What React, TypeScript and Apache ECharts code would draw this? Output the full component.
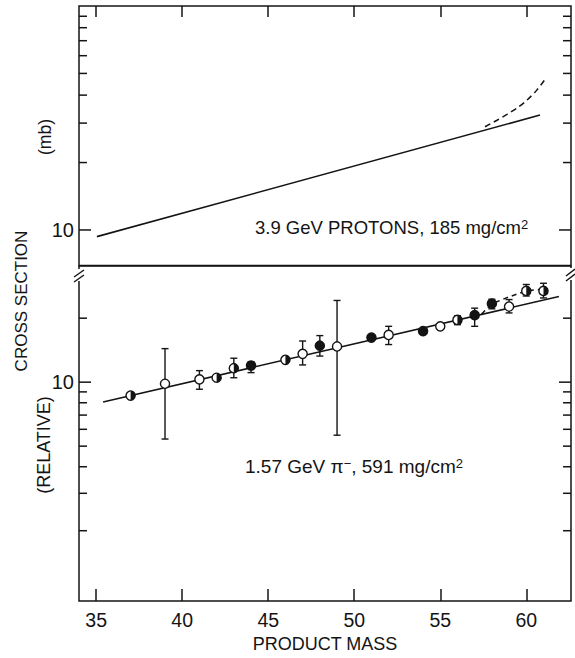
import React, { useEffect, useRef } from 'react';
import * as echarts from 'echarts';

// ---- data ----
const xTickValues = [35, 40, 45, 50, 55, 60];

// top panel: 3.9 GeV protons (mb)
const protonFitLine = [[35.04, 9.34], [60.8, 32.6]];
const protonDashed = [[57.6, 28.9], [58.3, 30.9], [58.9, 32.9], [59.5, 35.2], [60.04, 38.0], [60.6, 42.0], [61.1, 47.1]];

// bottom panel: 1.57 GeV pi- (relative)
const pionMass = [37, 39, 41, 42, 43, 44, 46, 47, 48, 49, 51, 52, 54, 55, 56, 57, 58, 59, 60, 61];
const pionValue = [8.65, 9.83, 10.31, 10.49, 11.63, 11.97, 12.74, 13.59, 14.84, 14.72, 16.21, 16.68, 17.39, 18.31, 19.63, 20.67, 23.41, 22.69, 26.88, 26.88];
const pionErrLow = [0, 5.4, 9.26, 0, 10.49, 11.09, 0, 12.05, 13.27, 5.63, 0, 15.03, 0, 0, 18.64, 18.31, 22.13, 21.17, 25.43, 24.9];
const pionErrHigh = [0, 14.38, 11.33, 0, 12.96, 12.47, 0, 15.62, 16.56, 24.23, 0, 18.31, 0, 0, 20.52, 22.29, 24.55, 24.47, 28.81, 29.2];
// 0 = open, 1 = filled, 2 = half filled
const pionMarker = [2, 0, 0, 2, 2, 1, 2, 0, 1, 0, 1, 0, 1, 0, 2, 1, 1, 0, 2, 2];
const pionFitLine = [[35.4, 8.07], [61.9, 25.3]];
const pionDashed = [[57.4, 20.9], [58, 23.4], [59, 25.2], [60, 26.9], [61, 27.4]];

const topTicks = [10, 20, 30, 40, 50, 60, 70, 80, 90];
const bottomTicks = [2, 3, 4, 5, 6, 7, 8, 9, 10, 20];

const INK = '#141414';
const FONT = 'Liberation Sans';

function tickSeries(gridIdx: number, ticks: number[]) {
  return {
    type: 'custom',
    xAxisIndex: gridIdx,
    yAxisIndex: gridIdx,
    silent: true,
    data: ticks.map((v) => [40, v, v === 10 ? 1 : 0]),
    renderItem: (params: any, api: any) => {
      const cs = params.coordSys;
      const v = api.value(1);
      const major = api.value(2);
      const y = api.coord([40, v])[1];
      const len = major ? 12 : 8;
      const st = { stroke: INK, lineWidth: 1.5 };
      return {
        type: 'group',
        children: [
          { type: 'line', shape: { x1: cs.x, y1: y, x2: cs.x + len, y2: y }, style: st },
          { type: 'line', shape: { x1: cs.x + cs.width - len, y1: y, x2: cs.x + cs.width, y2: y }, style: st },
        ],
      };
    },
  };
}

export default function App() {
  const ref = useRef<HTMLDivElement>(null);
  useEffect(() => {
    if (!ref.current) return;
    const chart = echarts.init(ref.current, undefined, { renderer: 'svg' });
    const tickStyle = { color: INK, width: 1.5 };
    const labelFmt = (v: number) => (Math.abs(v - 10) < 1e-6 ? '10' : '');
    const vText = (text: string, x: number, y: number, size: number) => ({
      type: 'text', x, y, rotation: Math.PI / 2,
      style: { text, fontSize: size, fontFamily: FONT, fill: INK, align: 'center', verticalAlign: 'middle', textAlign: 'center', textVerticalAlign: 'middle' },
    });
    const option: any = {
      animation: false,
      backgroundColor: '#ffffff',
      grid: [
        { left: 79, top: 6, width: 492, height: 259.5, show: true, borderColor: INK, borderWidth: 1.5, backgroundColor: 'transparent' },
        { left: 79, top: 266, width: 492, height: 350, show: true, borderColor: INK, borderWidth: 1.5, backgroundColor: 'transparent' },
      ],
      xAxis: [
        {
          type: 'value', gridIndex: 0, min: 34, max: 62.6, position: 'top',
          axisLine: { show: false }, splitLine: { show: false },
          axisTick: { show: true, inside: true, length: 11, customValues: xTickValues, lineStyle: tickStyle },
          axisLabel: { show: false },
        },
        {
          type: 'value', gridIndex: 1, min: 34, max: 62.6, position: 'bottom',
          axisLine: { show: false }, splitLine: { show: false },
          axisTick: { show: true, inside: true, length: 12, customValues: xTickValues, lineStyle: tickStyle },
          axisLabel: { customValues: xTickValues, fontSize: 19.5, color: INK, margin: 9, fontFamily: FONT },
          name: 'PRODUCT MASS', nameLocation: 'middle', nameGap: 31,
          nameTextStyle: { fontSize: 18, color: INK, fontFamily: FONT },
        },
      ],
      yAxis: [
        {
          type: 'log', gridIndex: 0, min: 6.94, max: 100, logBase: 10,
          axisLine: { show: false }, axisTick: { show: false }, splitLine: { show: false },
          axisLabel: { formatter: labelFmt, fontSize: 20, color: INK, margin: 5, fontFamily: FONT },
        },
        {
          type: 'log', gridIndex: 1, min: 0.933, max: 35.2, logBase: 10,
          axisLine: { show: false }, axisTick: { show: false }, splitLine: { show: false },
          axisLabel: { formatter: labelFmt, fontSize: 20, color: INK, margin: 5, fontFamily: FONT },
        },
      ],
      series: [
        {
          type: 'line', xAxisIndex: 0, yAxisIndex: 0, data: protonFitLine, symbol: 'none',
          lineStyle: { color: INK, width: 1.6 },
        },
        {
          type: 'line', xAxisIndex: 0, yAxisIndex: 0, data: protonDashed, symbol: 'none', smooth: 0.3,
          lineStyle: { color: INK, width: 1.5, type: [6, 4] },
        },
        {
          type: 'line', xAxisIndex: 1, yAxisIndex: 1, data: pionFitLine, symbol: 'none',
          lineStyle: { color: INK, width: 1.6 },
        },
        {
          type: 'line', xAxisIndex: 1, yAxisIndex: 1, data: pionDashed, symbol: 'none',
          lineStyle: { color: INK, width: 1.5, type: [5, 4] },
        },
        {
          type: 'custom', xAxisIndex: 1, yAxisIndex: 1, silent: true, z: 5,
          data: pionMass.map((m, i) => [m, pionValue[i], pionErrLow[i], pionErrHigh[i], pionMarker[i]]),
          renderItem: (params: any, api: any) => {
            const x = api.value(0);
            const y = api.value(1);
            const lo = api.value(2);
            const hi = api.value(3);
            const kind = api.value(4);
            const p = api.coord([x, y]);
            const r = 4.6;
            const st = { stroke: INK, lineWidth: 1.4 };
            const children: any[] = [];
            if (lo > 0 && hi > 0) {
              const pl = api.coord([x, lo]);
              const ph = api.coord([x, hi]);
              children.push({ type: 'line', shape: { x1: p[0], y1: pl[1], x2: p[0], y2: ph[1] }, style: st });
              children.push({ type: 'line', shape: { x1: p[0] - 3.5, y1: pl[1], x2: p[0] + 3.5, y2: pl[1] }, style: st });
              children.push({ type: 'line', shape: { x1: p[0] - 3.5, y1: ph[1], x2: p[0] + 3.5, y2: ph[1] }, style: st });
            }
            children.push({
              type: 'circle', shape: { cx: p[0], cy: p[1], r },
              style: { fill: kind === 1 ? INK : '#ffffff', stroke: INK, lineWidth: 1.4 },
            });
            if (kind === 2) {
              children.push({
                type: 'sector',
                shape: { cx: p[0], cy: p[1], r0: 0, r, startAngle: -Math.PI / 2, endAngle: Math.PI / 2 },
                style: { fill: INK },
              });
            }
            return { type: 'group', children };
          },
        },
        tickSeries(0, topTicks),
        tickSeries(1, bottomTicks),
      ],
      graphic: [
        vText('CROSS SECTION', 21, 301, 17),
        vText('(mb)', 45, 137, 17.5),
        vText('(RELATIVE)', 44, 445, 18),
        {
          type: 'text', x: 255, y: 227,
          style: {
            text: '3.9 GeV PROTONS, 185 mg/cm{sup|2}', fontSize: 18.5, fontFamily: FONT, fill: INK,
            align: 'left', verticalAlign: 'middle', textAlign: 'left', textVerticalAlign: 'middle',
            rich: { sup: { fontSize: 13, fontFamily: FONT, fill: INK, verticalAlign: 'top' } },
          },
        },
        {
          type: 'text', x: 245, y: 466,
          style: {
            text: '1.57 GeV π{sup|−}, 591 mg/cm{sup|2}', fontSize: 19, fontFamily: FONT, fill: INK,
            align: 'left', verticalAlign: 'middle', textAlign: 'left', textVerticalAlign: 'middle',
            rich: { sup: { fontSize: 13, fontFamily: FONT, fill: INK, verticalAlign: 'top' } },
          },
        },
        // axis break marks
        { type: 'rect', shape: { x: 76, y: 269, width: 6, height: 12 }, style: { fill: '#ffffff' }, z: 100 },
        { type: 'line', shape: { x1: 74, y1: 277, x2: 84, y2: 270 }, style: { stroke: INK, lineWidth: 1.4 }, z: 101 },
        { type: 'line', shape: { x1: 74, y1: 282, x2: 84, y2: 275 }, style: { stroke: INK, lineWidth: 1.4 }, z: 101 },
        { type: 'rect', shape: { x: 568, y: 268, width: 6, height: 12 }, style: { fill: '#ffffff' }, z: 100 },
        { type: 'line', shape: { x1: 566, y1: 276, x2: 575, y2: 269 }, style: { stroke: INK, lineWidth: 1.4 }, z: 101 },
        { type: 'line', shape: { x1: 566, y1: 281, x2: 575, y2: 274 }, style: { stroke: INK, lineWidth: 1.4 }, z: 101 },
      ],
    };
    chart.setOption(option);
    return () => chart.dispose();
  }, []);
  return <div ref={ref} style={{ position: 'absolute', left: 0, top: 0, width: 575, height: 658 }} />;
}
